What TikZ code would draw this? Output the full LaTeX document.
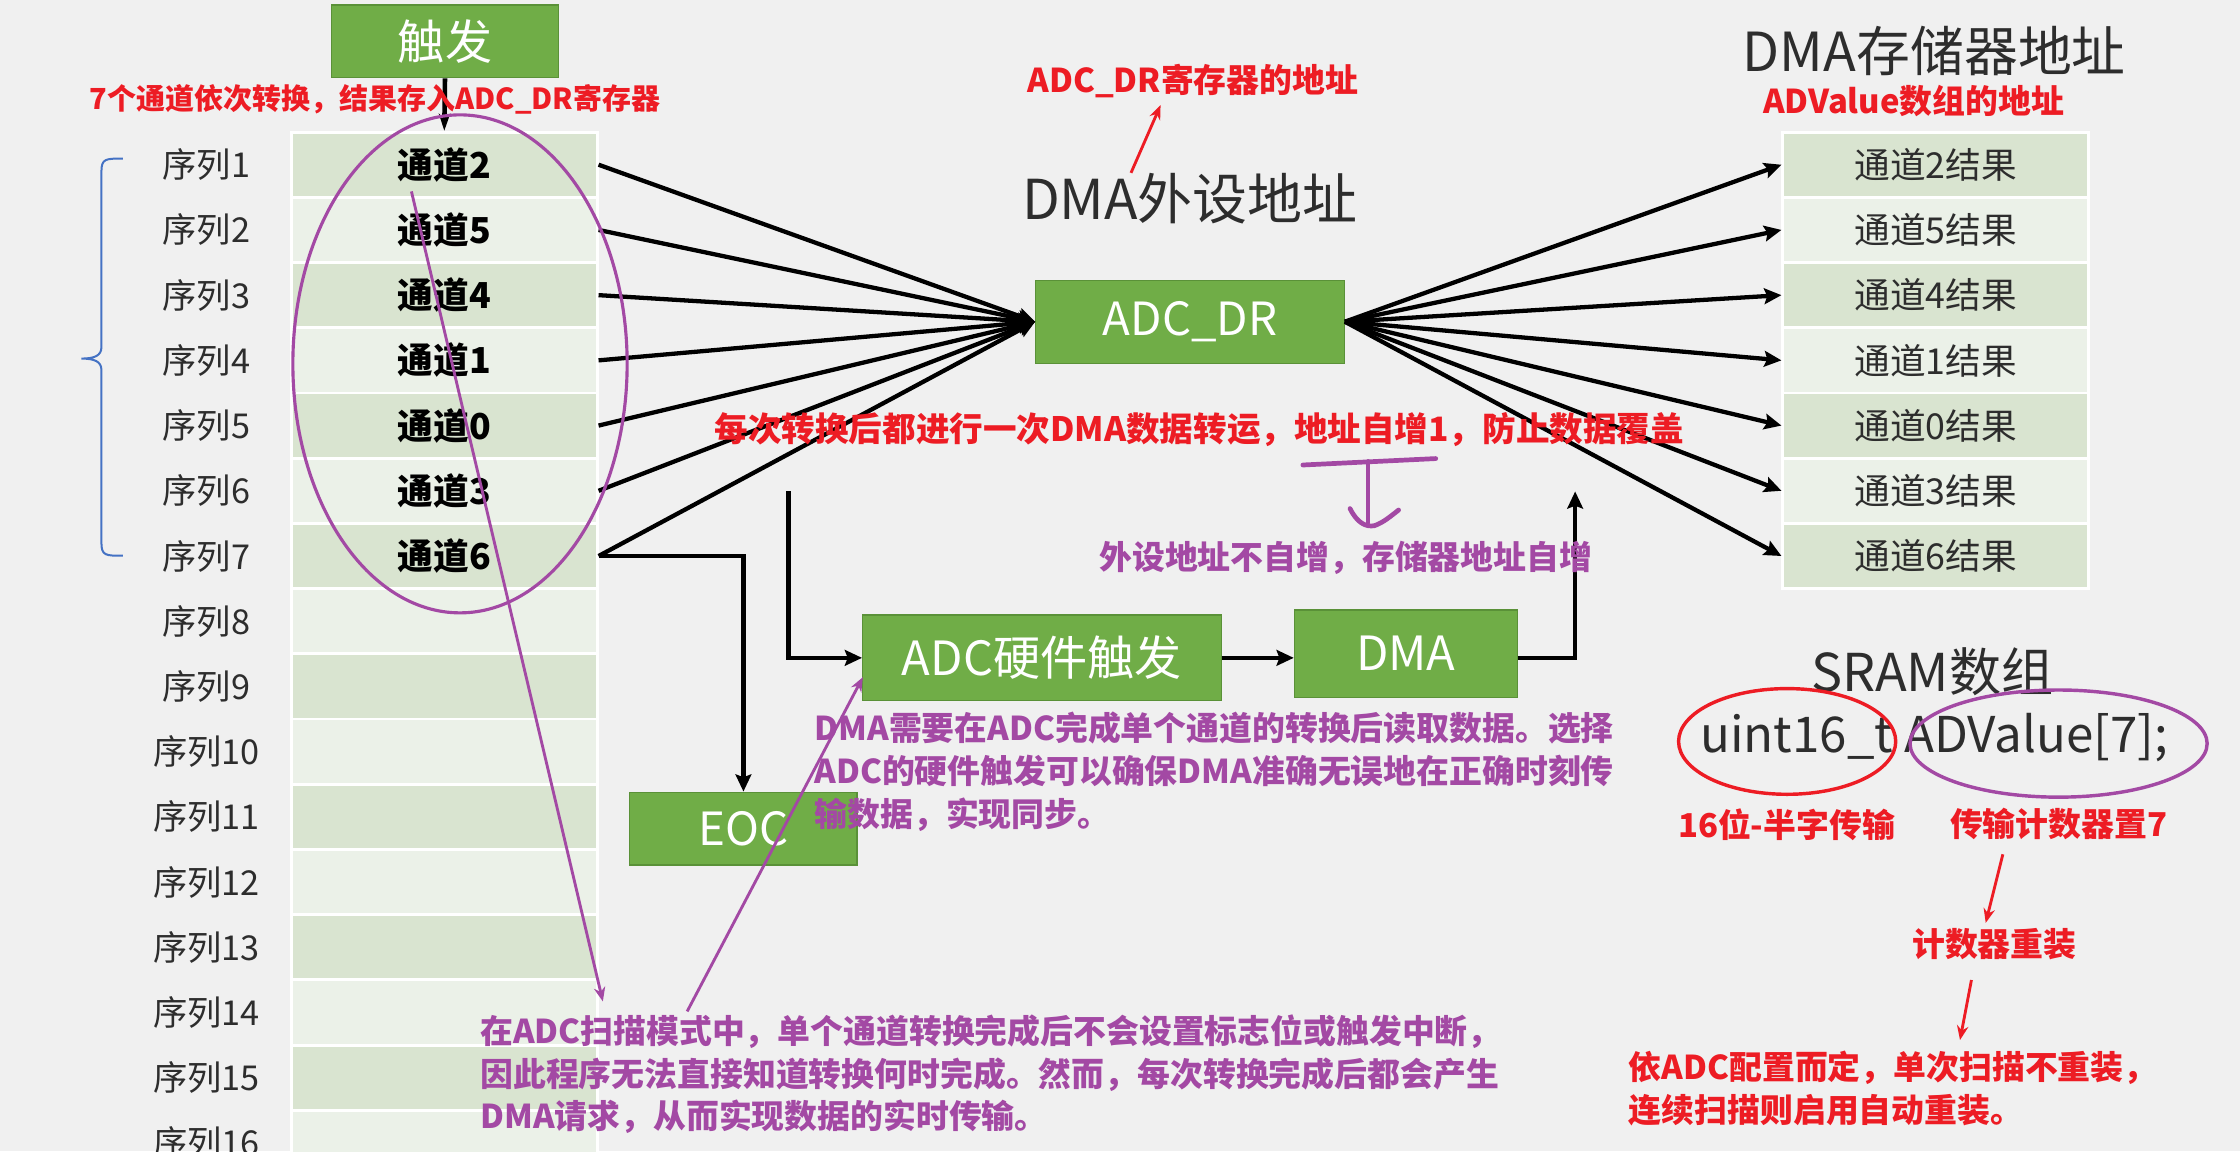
\documentclass[tikz,border=0pt]{standalone}
\usepackage{fontspec}
\setmainfont{Noto Sans CJK SC}
\usetikzlibrary{arrows.meta}
\definecolor{boxgreen}{RGB}{112,173,71}
\definecolor{boxedge}{RGB}{90,145,56}
\definecolor{rowdark}{RGB}{217,228,208}
\definecolor{rowlight}{RGB}{235,241,232}
\definecolor{canvas}{RGB}{240,240,240}
\definecolor{notered}{RGB}{237,28,36}
\definecolor{notepurple}{RGB}{163,73,164}
\definecolor{braceblue}{RGB}{68,114,196}
\definecolor{labelgray}{RGB}{45,45,45}

\begin{document}
\begin{tikzpicture}[x=1pt, y=-1pt,
    greenbox/.style={draw=boxedge, fill=boxgreen, text=white, line width=0.8pt, inner sep=0pt, font=\fontsize{33}{36}\selectfont},
    cell/.style={draw=white, line width=2pt, minimum width=214pt, minimum height=45.65pt, inner sep=0pt, font=\fontsize{25}{28}\selectfont},
    chan/.style={inner sep=0pt, font=\fontsize{25}{28}\selectfont\bfseries},
    seqlabel/.style={text=labelgray, inner sep=0pt, font=\fontsize{24}{28}\selectfont},
    title/.style={text=labelgray, inner sep=0pt, font=\fontsize{38}{40}\selectfont},
    note/.style={inner sep=0pt, align=left, font=\fontsize{23}{30}\selectfont\bfseries},
    bus/.style={line width=3pt, -{Stealth[length=12pt, width=11pt, inset=2pt]}},
    pointer/.style={line width=2pt, -{Stealth[length=10pt, width=8pt]}}]

    \fill[canvas] (0,0) rectangle (1568,806);
    \useasboundingbox (0,0) rectangle (1568,806);
    \clip (0,0) rectangle (1568,806);

    % ADC regular sequence
    \foreach \i in {1,...,16} {
        \pgfmathsetmacro{\rowy}{115.3+45.65*(\i-1)}
        \ifodd\i \def\rowfill{rowdark}\else \def\rowfill{rowlight}\fi
        \node[cell, fill=\rowfill] (L\i) at (311,\rowy) {};
        \node[seqlabel] (S\i) at (144.5,\rowy) {序列\i};
    }
    % channels and SRAM results
    \foreach \i/\ch in {1/2,2/5,3/4,4/1,5/0,6/3,7/6} {
        \pgfmathsetmacro{\rowy}{115.3+45.65*(\i-1)}
        \ifodd\i \def\rowfill{rowdark}\else \def\rowfill{rowlight}\fi
        \node[chan] (C\i) at (L\i.center) {通道\ch};
        \node[cell, fill=\rowfill, text=labelgray] (R\i) at (1355,\rowy) {通道\ch 结果};
    }

    \draw[braceblue, line width=1.4pt] (86,111) .. controls (74,111) and (71,111) .. (71,120) -- (71,243)
        .. controls (71,249) and (66,251) .. (57,251) .. controls (66,251) and (71,253) .. (71,259)
        -- (71,380) .. controls (71,389) and (74,389) .. (86,389);

    \node[greenbox, minimum width=159pt, minimum height=51pt] (trig) at (311.5,29) {触发};
    \node[greenbox, minimum width=216pt, minimum height=58pt, font=\fontsize{32}{36}\selectfont] (dr) at (833,225.2) {ADC\_DR};
    \node[greenbox, minimum width=251pt, minimum height=60pt] (hw) at (729.3,460.5) {ADC硬件触发};
    \node[greenbox, minimum width=156pt, minimum height=61pt] (dma) at (984,457.5) {DMA};
    \node[greenbox, minimum width=159pt, minimum height=51pt, font=\fontsize{32}{36}\selectfont] (eoc) at (520.4,580) {EOC};

    \node[title, font=\fontsize{38.5}{40}\selectfont] (periph) at (833,139) {DMA外设地址};
    \node[title, font=\fontsize{37.7}{40}\selectfont] (mem) at (1354,36) {DMA存储器地址};
    \node[title, font=\fontsize{36.5}{40}\selectfont] (sram) at (1352.5,470) {SRAM数组};
    \node[title, font=\fontsize{34.5}{38}\selectfont] (decl) at (1354,516) {uint16\_t ADValue[7];};

    % data paths
    \draw[bus, -{Stealth[length=12pt, width=8pt]}, line width=3.2pt] (trig.south) -- (L1.north);
    \foreach \i in {1,...,7} {
        \draw[bus] (L\i.east) -- (dr.west);
        \draw[bus] (dr.east) -- (R\i.west);
    }
    \draw[bus] (L7.east) -| (eoc.north);
    \coordinate (tap) at (552,344);
    \coordinate (up) at (1102.6,344);
    \draw[bus] (tap) |- (hw.west);
    \draw[bus] (hw.east) -- (dma.west |- hw.east);
    \draw[bus] (dma.east |- hw.east) -| (up);

    % notes
    \node[note, text=notered, font=\fontsize{20.3}{26}\selectfont\bfseries] (seqnote) at (262.5,69.7) {7个通道依次转换，结果存入ADC\_DR寄存器};
    \node[note, text=notered] (drnote) at (835,56.8) {ADC\_DR寄存器的地址};
    \node[note, text=notered] (memnote) at (1339.5,70.6) {ADValue数组的地址};
    \node[note, text=notered, font=\fontsize{23.5}{30}\selectfont\bfseries] (incnote) at (839.5,301) {每次转换后都进行一次DMA数据转运，地址自增1，防止数据覆盖};
    \node[note, text=notepurple] (fixnote) at (942,390.5) {外设地址不自增，存储器地址自增};
    \node[note, text=notepurple, anchor=west] (syncnote) at (570,540) {DMA需要在ADC完成单个通道的转换后读取数据。选择\\ADC的硬件触发可以确保DMA准确无误地在正确时刻传\\输数据，实现同步。};
    \node[note, text=notepurple, anchor=west] (scannote) at (336,752) {在ADC扫描模式中，单个通道转换完成后不会设置标志位或触发中断，\\因此程序无法直接知道转换何时完成。然而，每次转换完成后都会产生\\DMA请求，从而实现数据的实时传输。};
    \node[note, text=notered] (halfnote) at (1250.5,577) {16位-半字传输};
    \node[note, text=notered] (cntnote) at (1441,577) {传输计数器置7};
    \node[note, text=notered] (reload) at (1396,661) {计数器重装};
    \node[note, text=notered, anchor=west] (modenote) at (1140,762) {依ADC配置而定，单次扫描不重装，\\连续扫描则启用自动重装。};

    % markings
    \draw[notepurple, line width=2.2pt] (322,254.7) ellipse [x radius=117pt, y radius=174.3pt];
    \draw[notered, line width=2.4pt] (1251,519) ellipse [x radius=76pt, y radius=37pt];
    \draw[notepurple, line width=2.4pt] (1441,520.5) ellipse [x radius=104pt, y radius=37.5pt];

    \coordinate (p1a) at (288,134);
    \coordinate (p1b) at (422,701);
    \coordinate (p2a) at (481,708);
    \coordinate (p2b) at (604,474);
    \draw[pointer, notepurple] (p1a) -- (p1b);
    \draw[pointer, notepurple] (p2a) -- (p2b);

    \coordinate (r1a) at (791.7,121);
    \coordinate (r1b) at (812.4,73.6);
    \coordinate (r2a) at (1402,598);
    \coordinate (r2b) at (1390,646);
    \coordinate (r3a) at (1380,686);
    \coordinate (r3b) at (1372,728);
    \draw[pointer, notered] (r1a) -- (r1b);
    \draw[pointer, notered] (r2a) -- (r2b);
    \draw[pointer, notered] (r3a) -- (r3b);

    \draw[notepurple, line width=3.3pt, line cap=round] (912,325.5) -- (1005,321);
    \draw[notepurple, line width=3.3pt, line cap=round] (957.6,323) -- (957.6,366);
    \draw[notepurple, line width=3.3pt, line cap=round, line join=round] (945,356)
        .. controls (950,366) and (956,369) .. (962,368) .. controls (968,366) and (974,361) .. (979,357);

\end{tikzpicture}
\end{document}
